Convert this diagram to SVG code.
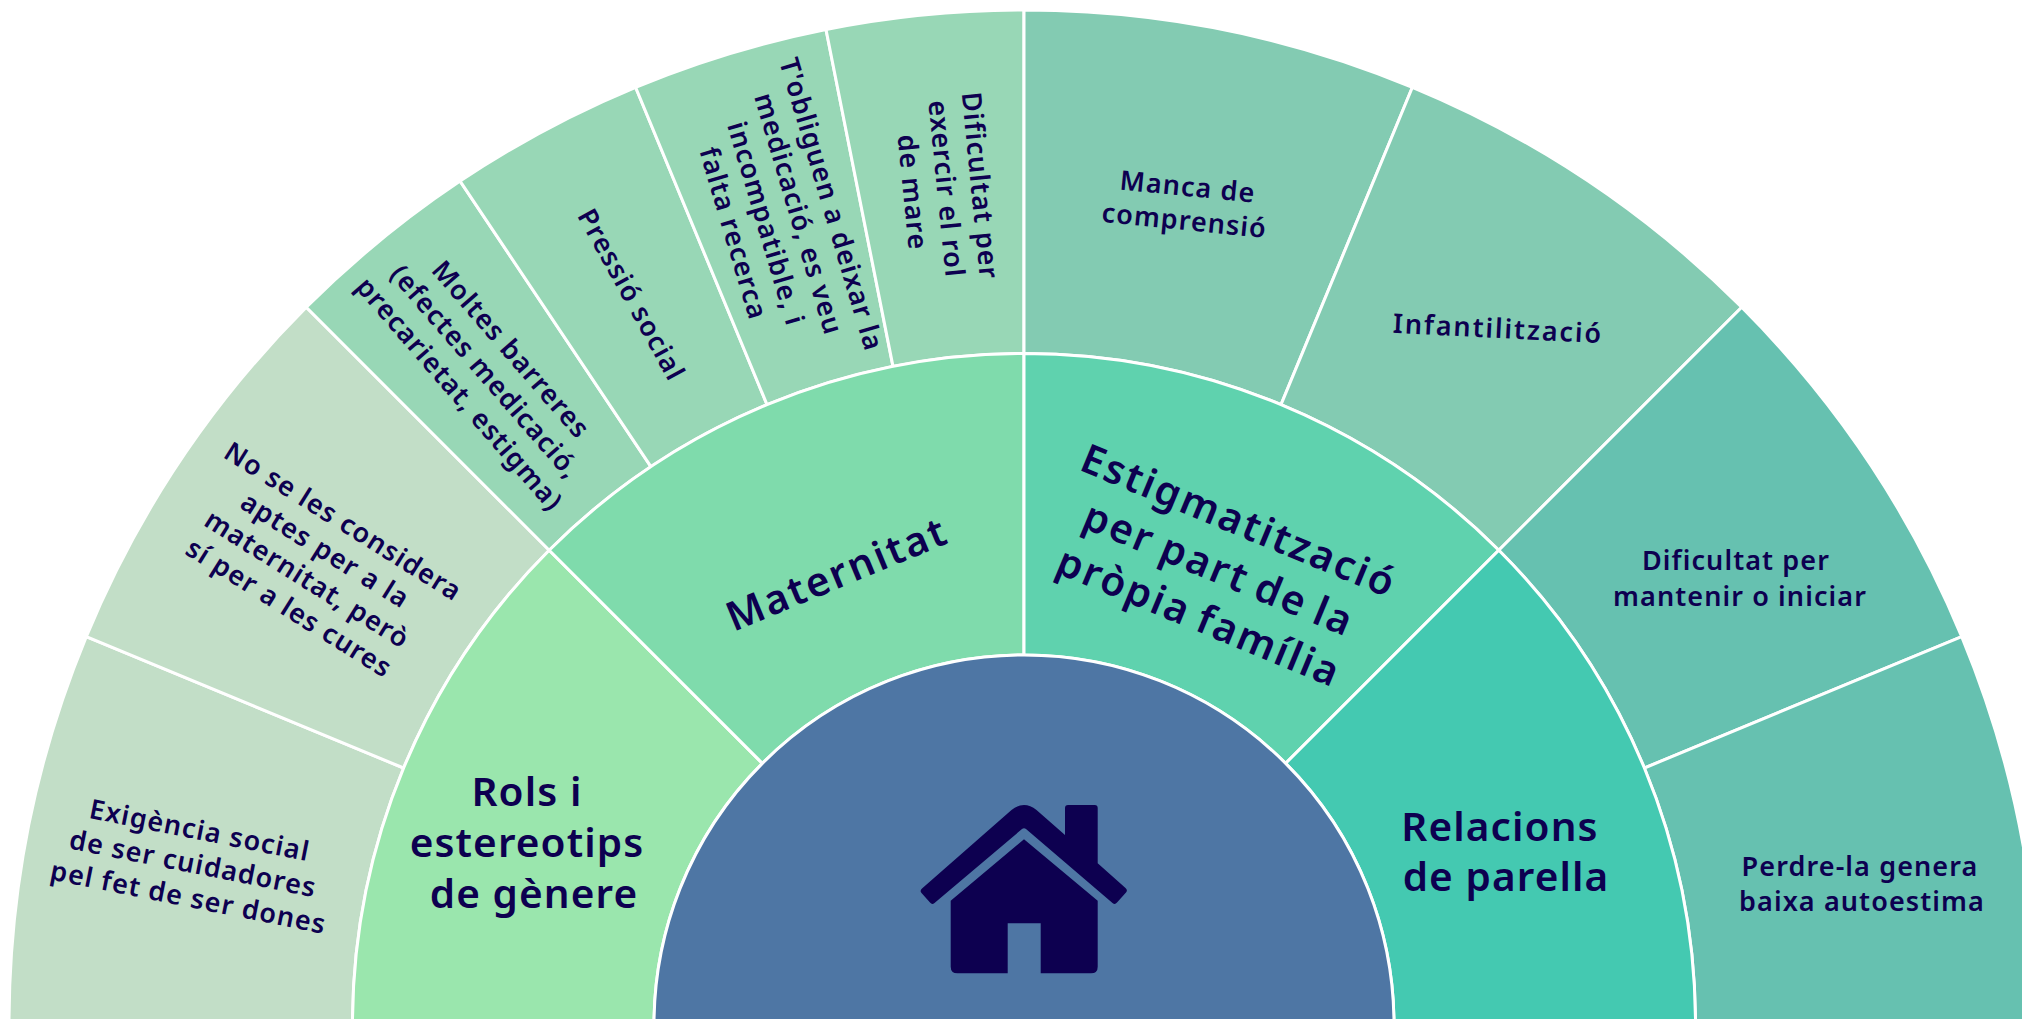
<svg xmlns="http://www.w3.org/2000/svg" width="2022" height="1019" viewBox="0 0 2022 1019">
<defs><style>
.seg{stroke:#fff;stroke-width:3}
text{font-family:"Noto Sans","Open Sans",sans-serif;fill:#0d0050;text-anchor:middle;font-weight:600}
.o{font-size:27px;letter-spacing:1.1px}
.m{font-size:40.500px;letter-spacing:1.1px}
.ow{letter-spacing:1.9px}
.mw{letter-spacing:2.300px}
</style></defs>
<rect width="2022" height="1019" fill="#fff"/>
<g id="n-exigencia"><path class="seg" fill="#c2dec7" d="M9 1025A1015 1015 0 0 1 86.300 636.600L403.600 768A671.500 671.500 0 0 0 352.500 1025Z"/>
<text class="o" transform="translate(193 864) rotate(11.25)"><tspan x="0" y="-25">Exigència social</tspan><tspan x="0" y="9">de ser cuidadores</tspan><tspan x="2" y="43">pel fet de ser dones</tspan></text></g>
<g id="n-aptes"><path class="seg" fill="#c2dec7" d="M86.300 636.600A1015 1015 0 0 1 306.300 307.300L549.200 550.200A671.500 671.500 0 0 0 403.600 768Z"/>
<text class="o" transform="translate(316 565) rotate(32)"><tspan x="0" y="-42">No se les considera</tspan><tspan x="0" y="-8">aptes per a la</tspan><tspan x="0" y="26">maternitat, però</tspan><tspan x="0" y="60">sí per a les cures</tspan></text></g>
<g id="n-barreres"><path class="seg" fill="#98d7b6" d="M306.300 307.300A1015 1015 0 0 1 460.100 181.100L650.900 466.700A671.500 671.500 0 0 0 549.200 550.200Z"/>
<text class="o" transform="translate(485 372) rotate(49)"><tspan x="0" y="-25">Moltes barreres</tspan><tspan x="0" y="9">(efectes medicació,</tspan><tspan x="0" y="43">precarietat, estigma)</tspan></text></g>
<g id="n-pressio"><path class="seg" fill="#98d7b6" d="M460.100 181.100A1015 1015 0 0 1 635.600 87.300L767 404.600A671.500 671.500 0 0 0 650.900 466.700Z"/>
<text class="o" transform="translate(631 295) rotate(61)"><tspan x="0" y="9">Pressió social</tspan></text></g>
<g id="n-obliguen"><path class="seg" fill="#98d7b6" d="M635.600 87.300A1015 1015 0 0 1 826 29.500L893 366.400A671.500 671.500 0 0 0 767 404.600Z"/>
<text class="o" transform="translate(782 219) rotate(73.5)"><tspan x="0" y="-42">T'obliguen a deixar la</tspan><tspan x="0" y="-8">medicació, es veu</tspan><tspan x="0" y="26">incompatible, i</tspan><tspan x="0" y="60">falta recerca</tspan></text></g>
<g id="n-rol"><path class="seg" fill="#98d7b6" d="M826 29.500A1015 1015 0 0 1 1024 10L1024 353.500A671.500 671.500 0 0 0 893 366.400Z"/>
<text class="o" transform="translate(946 189) rotate(84.4)"><tspan x="0" y="-25">Dificultat per</tspan><tspan x="0" y="9">exercir el rol</tspan><tspan x="0" y="43">de mare</tspan></text></g>
<g id="n-manca"><path class="seg" fill="#83cbb2" d="M1024 10A1015 1015 0 0 1 1412.400 87.300L1281 404.600A671.500 671.500 0 0 0 1024 353.500Z"/>
<text class="o" transform="translate(1186 204) rotate(5.6)"><tspan x="0" y="-8">Manca de</tspan><tspan x="0" y="26">comprensió</tspan></text></g>
<g id="n-infantil"><path class="seg" fill="#83cbb2" d="M1412.400 87.300A1015 1015 0 0 1 1741.700 307.300L1498.800 550.200A671.500 671.500 0 0 0 1281 404.600Z"/>
<text class="o ow" transform="translate(1498 329) rotate(2.8)"><tspan x="0" y="9">Infantilització</tspan></text></g>
<g id="n-mantenir"><path class="seg" fill="#66c1b0" d="M1741.700 307.300A1015 1015 0 0 1 1961.700 636.600L1644.400 768A671.500 671.500 0 0 0 1498.800 550.200Z"/>
<text class="o"><tspan x="1736" y="570">Dificultat per</tspan><tspan x="1740" y="606">mantenir o iniciar</tspan></text></g>
<g id="n-autoestima"><path class="seg" fill="#66c1b0" d="M1961.700 636.600A1015 1015 0 0 1 2039 1025L1695.500 1025A671.500 671.500 0 0 0 1644.400 768Z"/>
<text class="o"><tspan x="1860" y="876">Perdre-la genera</tspan><tspan x="1862" y="911">baixa autoestima</tspan></text></g>
<g id="n-rols"><path class="seg" fill="#9ae6ad" d="M352.500 1025A671.500 671.500 0 0 1 549.200 550.200L762.400 763.400A370 370 0 0 0 654 1025Z"/>
<text class="m"><tspan x="527" y="806">Rols i</tspan><tspan x="527" y="857">estereotips</tspan><tspan x="534" y="908">de gènere</tspan></text></g>
<g id="n-maternitat"><path class="seg" fill="#7fdbac" d="M549.200 550.200A671.500 671.500 0 0 1 1024 353.500L1024 655A370 370 0 0 0 762.400 763.400Z"/>
<text class="m mw" transform="translate(837 574) rotate(-22.5)"><tspan x="0" y="14">Maternitat</tspan></text></g>
<g id="n-estigma"><path class="seg" fill="#5fd2ae" d="M1024 353.500A671.500 671.500 0 0 1 1498.800 550.200L1285.600 763.400A370 370 0 0 0 1024 655Z"/>
<text class="m mw" transform="translate(1219 569) rotate(22.5)" word-spacing="-3"><tspan x="0" y="-38">Estigmatització</tspan><tspan x="0" y="14">per part de la</tspan><tspan x="0" y="66">pròpia família</tspan></text></g>
<g id="n-relacions"><path class="seg" fill="#44c9b1" d="M1498.800 550.200A671.500 671.500 0 0 1 1695.500 1025L1394 1025A370 370 0 0 0 1285.600 763.400Z"/>
<text class="m"><tspan x="1500" y="841">Relacions</tspan><tspan x="1506" y="891">de parella</tspan></text></g>
<g id="n-home"><path class="seg" fill="#4e76a4" d="M654 1025A370 370 0 0 1 1394 1025Z"/>
<path fill="#0d0050" d="M1011.500 810Q1024 800 1036.500 810L1065 835L1065 808Q1065 805 1068 805L1094.700 805Q1097.700 805 1097.700 808L1097.700 863.300L1125.500 888Q1128 890 1126 892.500L1117 902.500Q1115 905 1112.500 903L1026 829Q1024 827.300 1022 829L934.500 903Q932 905 930 902.500L921.500 893Q919.500 890.500 922 888.500Z"/>
<path fill="#0d0050" d="M1024 839.300L1097.700 900.700L1097.700 966.700Q1097.700 973.300 1091 973.300L1040.700 973.300L1040.700 923.300L1007.700 923.300L1007.700 973.300L957.500 973.300Q950.700 973.300 950.700 966.700L950.700 900.700Z"/></g>
</svg>
